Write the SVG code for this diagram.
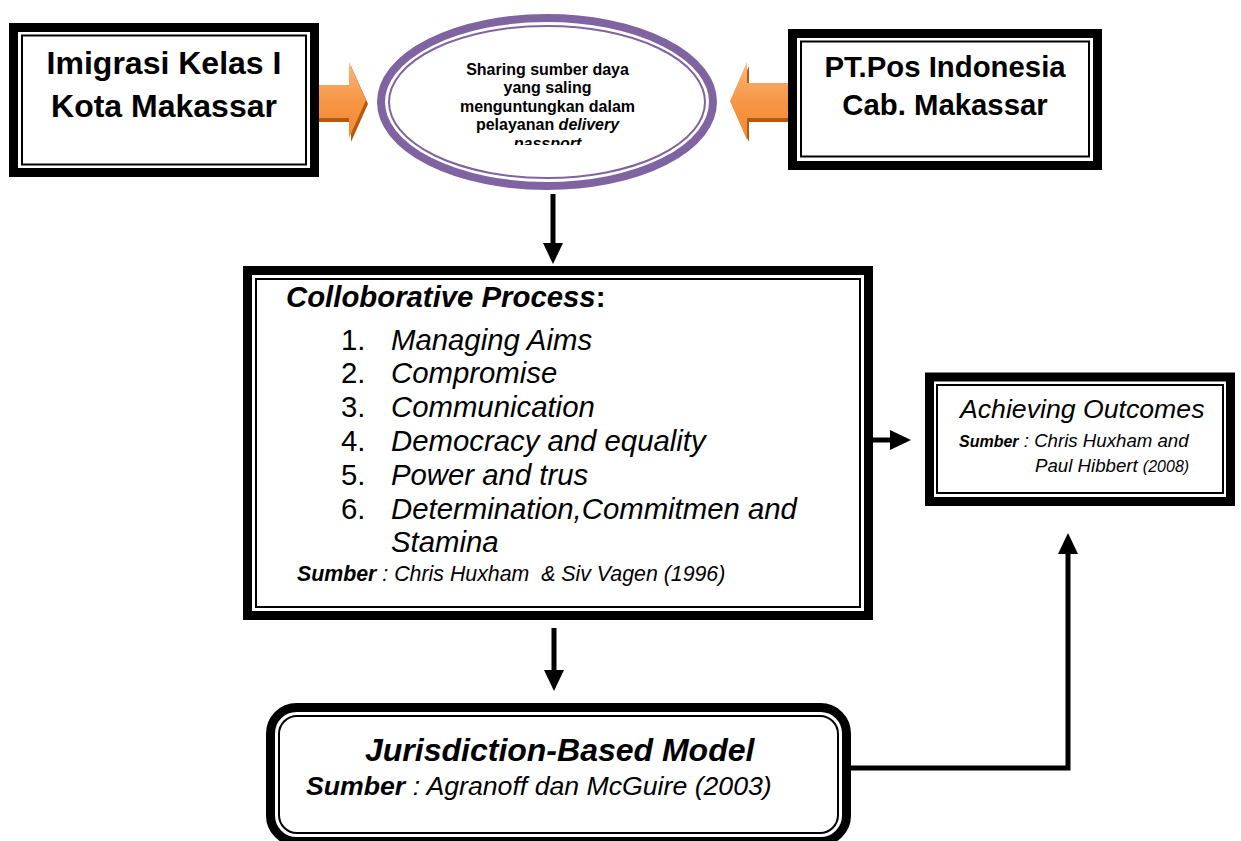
<svg xmlns="http://www.w3.org/2000/svg" width="1241" height="841" viewBox="0 0 1241 841">
  <style>
    .frame { fill: #fff; stroke: #000; stroke-width: 9; }
    .inner { fill: none; stroke: #000; stroke-width: 2; }
    .t { font-family: "Liberation Sans", Arial, Helvetica, sans-serif; fill: #000; }
    .b { font-weight: bold; }
    .i { font-style: italic; }
    .conn { fill: none; stroke: #000; stroke-width: 5; stroke-linejoin: miter; }
    .shade { fill: #B5590E; }
    .body { fill: url(#orange); }
  </style>
  <defs>
    <linearGradient id="orange" x1="0" y1="0" x2="0" y2="1">
      <stop offset="0" stop-color="#FAB77E"/>
      <stop offset="0.5" stop-color="#F79646"/>
      <stop offset="1" stop-color="#F08A36"/>
    </linearGradient>
    <marker id="head" viewBox="0 0 21 20" refX="2" refY="10" markerWidth="21" markerHeight="20" markerUnits="userSpaceOnUse" orient="auto">
      <path d="M0,0 L21,10 L0,20 z" fill="#000"/>
    </marker>
    <clipPath id="ellipseText">
      <rect x="380" y="40" width="340" height="105"/>
    </clipPath>
  </defs>

  <rect width="1241" height="841" fill="#fff"/>

  <!-- connectors -->
  <g id="connectors">
    <path class="conn" d="M553,194 L553,245" marker-end="url(#head)"/>
    <path class="conn" d="M554,628 L554,672" marker-end="url(#head)"/>
    <path class="conn" d="M873,440 L892,440" marker-end="url(#head)"/>
    <path class="conn" d="M851,768 L1068,768 L1068,552" marker-end="url(#head)"/>
    <!-- block arrows into the shared-resource ellipse -->
    <g id="arrow-left">
      <polygon class="shade" points="317,89 351,89 351,66 368,104 351,142 351,122 317,122"/>
      <polygon class="body" points="316,85 349,85 349,62 366,100 349,138 349,118 316,118"/>
    </g>
    <g id="arrow-right">
      <polygon class="shade" points="792,87 749,87 749,66 732,105 749,142 749,122 792,122"/>
      <polygon class="body" points="789,83 747,83 747,62 730,101 747,140 747,118 789,118"/>
    </g>
  </g>

  <!-- Imigrasi -->
  <g id="node-imigrasi">
    <rect class="frame" x="13.5" y="27.5" width="301" height="145"/>
    <rect class="inner" x="22" y="35.5" width="284" height="129"/>
    <text class="t b" x="164" y="74" font-size="32" text-anchor="middle">Imigrasi Kelas I</text>
    <text class="t b" x="164" y="117" font-size="32" text-anchor="middle">Kota Makassar</text>
  </g>

  <!-- shared resources ellipse -->
  <g id="node-sharing">
    <ellipse cx="547" cy="102" rx="166" ry="84" fill="#fff" stroke="#8064A2" stroke-width="8"/>
    <ellipse cx="547" cy="102" rx="158" ry="76" fill="none" stroke="#8064A2" stroke-width="2"/>
    <g clip-path="url(#ellipseText)" class="t b" font-size="16" text-anchor="middle">
      <text x="547.5" y="75">Sharing sumber daya</text>
      <text x="547.5" y="93.4">yang saling</text>
      <text x="547.5" y="111.8">menguntungkan dalam</text>
      <text x="547.5" y="130.2">pelayanan <tspan class="i">delivery</tspan></text>
      <text x="547.5" y="148.6" class="i">passport</text>
    </g>
  </g>

  <!-- PT. Pos -->
  <g id="node-pos">
    <rect class="frame" x="792.5" y="33.5" width="305" height="132"/>
    <rect class="inner" x="801" y="41.5" width="288" height="115"/>
    <text class="t b" x="945" y="77" font-size="29.33" text-anchor="middle">PT.Pos Indonesia</text>
    <text class="t b" x="945" y="115" font-size="29.33" text-anchor="middle">Cab. Makassar</text>
  </g>

  <!-- collaborative process -->
  <g id="node-process">
    <rect class="frame" x="247.5" y="270.5" width="621" height="345"/>
    <rect class="inner" x="256" y="279" width="604" height="328"/>
    <text class="t b" x="286" y="307" font-size="29.33"><tspan class="i">Colloborative Process</tspan>:</text>
    <g class="t" font-size="29.33">
      <text x="341" y="349.5">1.</text><text class="i" x="391" y="349.5">Managing Aims</text>
      <text x="341" y="383.3">2.</text><text class="i" x="391" y="383.3">Compromise</text>
      <text x="341" y="417.1">3.</text><text class="i" x="391" y="417.1">Communication</text>
      <text x="341" y="450.9">4.</text><text class="i" x="391" y="450.9">Democracy and equality</text>
      <text x="341" y="484.7">5.</text><text class="i" x="391" y="484.7">Power and trus</text>
      <text x="341" y="518.5">6.</text><text class="i" x="391" y="518.5">Determination,Commitmen and</text>
      <text class="i" x="391" y="552.3">Stamina</text>
    </g>
    <text class="t i" x="297" y="581" font-size="21.33"><tspan class="b">Sumber</tspan> : Chris Huxham &#160;&amp; Siv Vagen (1996)</text>
  </g>

  <!-- achieving outcomes -->
  <g id="node-outcomes">
    <rect class="frame" x="929.5" y="377" width="301" height="124.5"/>
    <rect class="inner" x="937" y="385" width="286" height="108"/>
    <text class="t i" x="960" y="418" font-size="26.67">Achieving Outcomes</text>
    <text class="t i" x="959" y="447" font-size="18.67"><tspan class="b" font-size="16">Sumber</tspan> : Chris Huxham and</text>
    <text class="t i" x="1035" y="472" font-size="18.67">Paul Hibbert <tspan font-size="16">(2008)</tspan></text>
  </g>

  <!-- jurisdiction-based model -->
  <g id="node-jurisdiction">
    <rect class="frame" x="270.5" y="707.5" width="576" height="134" rx="26"/>
    <rect class="inner" x="279" y="716" width="559" height="117" rx="18"/>
    <text class="t b i" x="365" y="761" font-size="32">Jurisdiction-Based Model</text>
    <text class="t i" x="306" y="795" font-size="26.67"><tspan class="b">Sumber</tspan> : Agranoff dan McGuire (2003)</text>
  </g>
</svg>
